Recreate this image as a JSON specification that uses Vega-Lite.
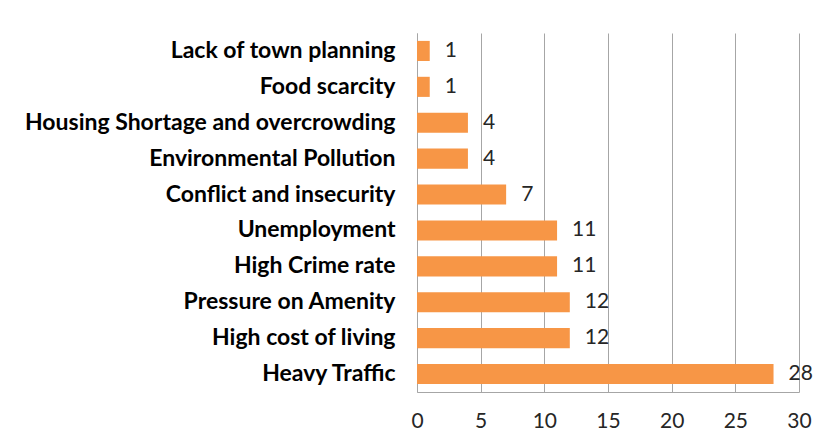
{
  "$schema": "https://vega.github.io/schema/vega-lite/v6.json",
  "width": 382,
  "height": 359,
  "autosize": {"type": "none"},
  "padding": {"left": 417, "top": 33, "right": 28, "bottom": 54},
  "background": "white",
  "data": {"values": [
    {"issue": "Lack of town planning", "count": 1},
    {"issue": "Food scarcity", "count": 1},
    {"issue": "Housing Shortage and overcrowding", "count": 4},
    {"issue": "Environmental Pollution", "count": 4},
    {"issue": "Conflict and insecurity", "count": 7},
    {"issue": "Unemployment", "count": 11},
    {"issue": "High Crime rate", "count": 11},
    {"issue": "Pressure on Amenity", "count": 12},
    {"issue": "High cost of living", "count": 12},
    {"issue": "Heavy Traffic", "count": 28}
  ]},
  "config": {
    "view": {"stroke": null},
    "font": "Lato"
  },
  "encoding": {
    "y": {
      "field": "issue", "type": "nominal", "sort": null,
      "scale": {"paddingInner": 0.44, "paddingOuter": 0.22},
      "axis": {
        "title": null, "labelFont": "Lato", "labelFontWeight": "bold", "labelFontSize": 23,
        "labelColor": "#000000", "labelPadding": 22, "ticks": false,
        "domainColor": "#a6a6a6", "domainWidth": 1, "labelLimit": 0
      }
    }
  },
  "layer": [
    {
      "mark": {"type": "bar", "color": "#F79646"},
      "encoding": {
        "x": {
          "field": "count", "type": "quantitative",
          "scale": {"domain": [0, 30], "nice": false},
          "axis": {
            "title": null, "values": [0, 5, 10, 15, 20, 25, 30], "grid": true,
            "gridColor": "#a6a6a6", "gridWidth": 1, "domainColor": "#a6a6a6",
            "ticks": false, "labelFont": "Lato", "labelFontSize": 21, "labelColor": "#262626",
            "labelPadding": 18, "labelFlush": false
          }
        }
      }
    },
    {
      "mark": {"type": "text", "align": "left", "baseline": "middle", "dx": 15, "font": "Lato", "fontSize": 21, "color": "#262626"},
      "encoding": {
        "x": {"field": "count", "type": "quantitative"},
        "text": {"field": "count", "type": "quantitative"}
      }
    }
  ]
}
